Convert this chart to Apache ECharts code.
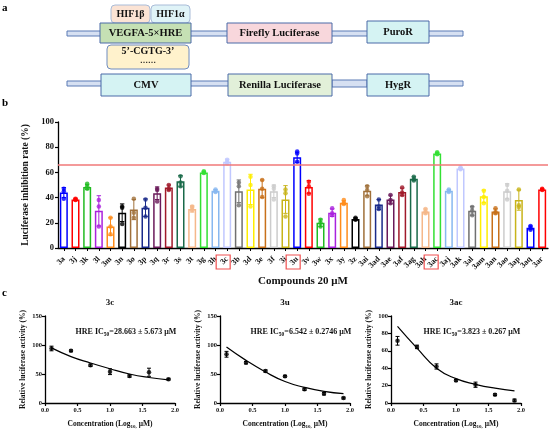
<!DOCTYPE html>
<html><head><meta charset="utf-8">
<script src="https://cdn.jsdelivr.net/npm/echarts@6/dist/echarts.min.js"></script>
<style>html,body{margin:0;padding:0;background:#fff}#c{width:554px;height:435px}</style>
</head><body><div id="c"></div>
<script>
// ---------- Panel b data ----------
const compounds = ['3a','3j','3k','3l','3m','3n','3o','3p','3q','3r','3s','3t','3g','3h','3c','3b','3d','3e','3f','3i','3u','3v','3w','3x','3y','3z','3ai','3ad','3ae','3af','3ag','3ah','3ac','3aj','3ak','3al','3am','3an','3ao','3ap','3aq','3ar'];
const inhibitionMean = [44,38.5,48.5,29.5,17,28,30.5,32,43.5,48,53,31,60,45.5,68.5,45,46.5,47,45,38.5,72,48.5,20,28,36,23,45.5,34.5,38.5,44.5,55,29,75,45.5,63,29.5,41,29,45,38,16,46.5];
const inhibitionErr = [4,1,2,12,7,7,8,7,5,2,4.5,2.5,1,1,2,9,12,7,5,11,4,5,3,3,1.5,1,4,4,3.5,3,1.5,2,1,1,0.8,3.5,5,2,6,8,1.5,0.5];
const rep1 = [47,39,51,38,24,32,39,38.5,47,50,57,33,61,46.5,70,52,56.5,54,49,46.5,76.5,52.5,22.5,31.5,38,24,49,38.5,42,48,56.5,31,76,46.5,64,32.5,45.5,31.5,50,46.5,17.5,47];
const rep2 = [45,38,49,33,17,33,28,32,46,47,52,30,60,45,68.5,49,50,47,47,43.5,75,49,20,27.5,36,23,46,33,38,44,54.5,29,75,45.5,63,29.5,40.5,28.5,45.5,34,16,46.5];
const rep3 = [39,38.5,47,17,11,19,24,25,37,46,49,32,59.5,44.5,67,34,33,40.5,38.5,25,68.5,43,17,26,35,22.5,41,31,35.5,42,53.5,27.5,74.5,44.5,62.5,26,35.5,27.5,38.5,32.5,14.5,46];
const thresholdLine = 66;
const highlighted = ['3c','3u','3ac'];
const yTicksB = [0,20,40,60,80,100];

// ---------- Panel c data ----------
const doseLog = [0.1,0.4,0.7,1.0,1.3,1.6,1.9];
const act3c = [94,90,65,54,46.5,53,41];
const err3c = [4,1.5,2,5,2,7,1.5];
const fit3c = [95,80,69,59,50,44,40];
const act3u = [84,69.5,55,46,23.5,16,8.5];
const err3u = [5,2,2,1.5,2,2,1.5];
const fit3u = [96.5,73.5,53.5,37,27,20,16];
const act3ac = [71.5,64.5,42,26,21,9.6,3];
const err3ac = [5,2,3,1,3,1,1.5];
const fit3ac = [88,63,40,28,21.5,17,14];
const ic50Labels = ['28.663 ± 5.673','6.542 ± 0.2746','3.823 ± 0.267'];
const curveTitles = ['3c','3u','3ac'];

// ---------- styles ----------
const palette = ['#0000ff','#ff0000','#22bb22','#aa22dd','#ff8c1a','#000000','#a0703a','#1a2a8a','#6a1a5a','#a01a2a','#1a6a4a','#f5b88a','#33e033','#88b8f0','#c0c8ff','#707070','#ffee00','#c8701a','#cccccc','#c8b41a'];
const SERIF = '"Liberation Serif","Times New Roman",serif';
const colOf = i => palette[i % palette.length];

const chart = echarts.init(document.getElementById('c'), null, {renderer:'canvas'});

function errRenderer(capW, colorFn){
  return function(params, api){
    const x = api.value(0), m = api.value(1), e = api.value(2);
    const t = api.coord([x, m + e]), b = api.coord([x, m - e]);
    const st = {stroke: colorFn(params.dataIndex), lineWidth: 1};
    return {type:'group', children:[
      {type:'line', shape:{x1:t[0],y1:t[1],x2:b[0],y2:b[1]}, style:st},
      {type:'line', shape:{x1:t[0]-capW,y1:t[1],x2:t[0]+capW,y2:t[1]}, style:st},
      {type:'line', shape:{x1:b[0]-capW,y1:b[1],x2:b[0]+capW,y2:b[1]}, style:st}
    ]};
  };
}

const axisLineStyle = {show:true, lineStyle:{color:'#000', width:1.3}};
const tickStyle = {show:true, inside:false, length:3, lineStyle:{color:'#000', width:1.2}};

// ---------- Panel a (diagram) ----------
function box(x,y,w,h,fill,stroke,r){
  return {type:'rect', shape:{x:x,y:y,width:w,height:h,r:r||0}, style:{fill:fill, stroke:stroke, lineWidth:1}, z:10};
}
function txt(x,y,s,size){
  return {type:'text', x:x, y:y, style:{text:s, font:'bold '+(size||10)+'px '+SERIF, fill:'#111', align:'center', verticalAlign:'middle'}, z:20};
}
const graphicEls = [
  box(67,31,396,5,'#d6e0f2','#5a7bb5'),
  box(67,81,396,5,'#d6e0f2','#5a7bb5'),
  box(332,80,35,7,'#d6e0f2','#5a7bb5'),
  box(111,5,39,18,'#fbe3d4','#a9bcd8',4),
  box(151,5,39,18,'#dff3f7','#a9bcd8',4),
  box(100,23,91,20,'#c5e0b4','#4a6aa8'),
  box(107,45,82,24,'#fff2cc','#6f8cc0',4),
  box(227,23,105,20,'#f8d7dc','#4a6aa8'),
  box(367,21,62,22,'#d5f3f3','#4a6aa8'),
  box(101,74,90,22,'#d5f3f3','#4a6aa8'),
  box(228,74,104,22,'#e2f0d9','#4a6aa8'),
  box(367,74,62,22,'#d5f3f3','#4a6aa8'),
  txt(130.5,14,'HIF1β',10), txt(170.5,14,'HIF1α',10),
  txt(145.5,33,'VEGFA-5×HRE',10.5), txt(148,51,'5’-CGTG-3’',10), txt(148,61,'……',8),
  txt(279.5,33,'Firefly Luciferase',10.5), txt(398,32,'PuroR',10.5),
  txt(146,85,'CMV',10.5), txt(280,85,'Renilla Luciferase',10.5), txt(398,85,'HygR',10.5),
  {type:'text', x:2, y:3, style:{text:'a', font:'bold 11px '+SERIF, fill:'#000'}},
  {type:'text', x:2, y:98, style:{text:'b', font:'bold 11px '+SERIF, fill:'#000'}},
  {type:'text', x:2, y:288, style:{text:'c', font:'bold 11px '+SERIF, fill:'#000'}}
];

// ---------- Panel c grids ----------
const cGrids = [{left:45,top:316,width:130,height:87},{left:220,top:316,width:130,height:87},{left:391,top:316,width:130,height:87}];
const cAct = [act3c, act3u, act3ac], cErr = [err3c, err3u, err3ac], cFit = [fit3c, fit3u, fit3ac];
const cYmax = [150,150,100], cYint = [50,50,20];

cGrids.forEach((g,k)=>{
  graphicEls.push({type:'text', x:g.left+g.width/2, y:303, style:{text:curveTitles[k], font:'bold 9px '+SERIF, fill:'#111', align:'center', verticalAlign:'middle'}});
  graphicEls.push({type:'text', x:g.left+g.width/2+16, y:332, style:{
    text:'{a|HRE IC}{s|50}{a|='+ic50Labels[k]+' μM}', align:'center', verticalAlign:'middle',
    rich:{a:{font:'bold 8px '+SERIF, fill:'#111'}, s:{font:'bold 5.5px '+SERIF, fill:'#111', padding:[5,0,0,0]}}}});
});

const grids = [{left:58,top:122,width:490,height:126}].concat(cGrids);

const xAxes = [{
  gridIndex:0, type:'category', data:compounds, boundaryGap:true,
  axisLine:axisLineStyle, axisTick:{show:true, length:3, lineStyle:{color:'#000',width:1}, alignWithLabel:true},
  axisLabel:{interval:0, rotate:45, fontFamily:SERIF, fontWeight:'bold', fontSize:8, color:'#111', margin:10},
  name:'Compounds 20 μM', nameLocation:'middle', nameGap:28,
  nameTextStyle:{fontFamily:SERIF, fontWeight:'bold', fontSize:11, color:'#111'}
}];
const yAxes = [{
  gridIndex:0, type:'value', min:0, max:100, interval:20,
  axisLine:axisLineStyle, axisTick:tickStyle, splitLine:{show:false},
  axisLabel:{fontFamily:SERIF, fontWeight:'bold', fontSize:8.5, color:'#111', margin:4,
    formatter:v=> yTicksB.indexOf(v)>=0 ? String(v) : ''},
  name:'Luciferase inhibition rate (%)', nameLocation:'middle', nameGap:24,
  nameTextStyle:{fontFamily:SERIF, fontWeight:'bold', fontSize:9.5, color:'#111'}
}];
cGrids.forEach((g,k)=>{
  xAxes.push({gridIndex:k+1, type:'value', min:0, max:2, interval:0.5,
    axisLine:axisLineStyle, axisTick:tickStyle, splitLine:{show:false},
    axisLabel:{fontFamily:SERIF, fontWeight:'bold', fontSize:6.5, color:'#111', margin:4, formatter:v=>v.toFixed(1)},
    name:'{a|Concentration (Log}{s|10,}{a| μM)}', nameLocation:'middle', nameGap:16,
    nameTextStyle:{rich:{a:{fontFamily:SERIF, fontWeight:'bold', fontSize:7.5, color:'#111'}, s:{fontFamily:SERIF, fontWeight:'bold', fontSize:5, color:'#111', padding:[5,0,0,0]}}}});
  yAxes.push({gridIndex:k+1, type:'value', min:0, max:cYmax[k], interval:cYint[k],
    axisLine:axisLineStyle, axisTick:tickStyle, splitLine:{show:false},
    axisLabel:{fontFamily:SERIF, fontWeight:'bold', fontSize:6.5, color:'#111', margin:3},
    name:'Relative luciferase activity (%)', nameLocation:'middle', nameGap:18,
    nameTextStyle:{fontFamily:SERIF, fontWeight:'bold', fontSize:7.5, color:'#111'}});
});

// ---------- series ----------
const series = [];
series.push({
  type:'bar', xAxisIndex:0, yAxisIndex:0, barWidth:8, silent:true,
  data: inhibitionMean.map((v,i)=>({value:v, itemStyle:{color:'rgba(255,255,255,0)', borderColor:colOf(i), borderWidth:1.5}})),
  markLine:{silent:true, symbol:'none', label:{show:false}, lineStyle:{color:'#f07878', width:1.6, type:'solid'}, data:[{yAxis:thresholdLine}]},
  z:2
});
series.push({
  type:'custom', xAxisIndex:0, yAxisIndex:0, silent:true, z:3,
  renderItem: errRenderer(2.2, i=>colOf(i)),
  data: inhibitionMean.map((v,i)=>[i, v, inhibitionErr[i]])
});
const pts = [];
[rep1,rep2,rep3].forEach(rep=>rep.forEach((v,i)=>pts.push({value:[i,v], itemStyle:{color:colOf(i)}})));
series.push({type:'scatter', xAxisIndex:0, yAxisIndex:0, symbol:'circle', symbolSize:4.5, silent:true, z:4, data:pts});

cGrids.forEach((g,k)=>{
  series.push({type:'line', xAxisIndex:k+1, yAxisIndex:k+1, smooth:0.5, showSymbol:false, silent:true,
    lineStyle:{color:'#000', width:1.2}, data: doseLog.map((x,j)=>[x, cFit[k][j]])});
  series.push({type:'custom', xAxisIndex:k+1, yAxisIndex:k+1, silent:true,
    renderItem: errRenderer(2, ()=>'#000'), data: doseLog.map((x,j)=>[x, cAct[k][j], cErr[k][j]])});
  series.push({type:'scatter', xAxisIndex:k+1, yAxisIndex:k+1, symbol:'circle', symbolSize:4.5, silent:true,
    itemStyle:{color:'#000'}, data: doseLog.map((x,j)=>[x, cAct[k][j]])});
});

chart.setOption({animation:false, grid:grids, xAxis:xAxes, yAxis:yAxes, series:series, graphic:graphicEls});

// red boxes around highlighted compound labels (positioned through the category scale)
const boxes = highlighted.map(name=>{
  const px = chart.convertToPixel({xAxisIndex:0}, name);
  const w = 14, shift = name.length > 2 ? 6 : 4;
  return {type:'rect', shape:{x:px - shift - w/2, y:255, width:w, height:14}, style:{fill:'none', stroke:'#f05050', lineWidth:1.2}, z:30};
});
chart.setOption({graphic: graphicEls.concat(boxes)});
</script></body></html>
